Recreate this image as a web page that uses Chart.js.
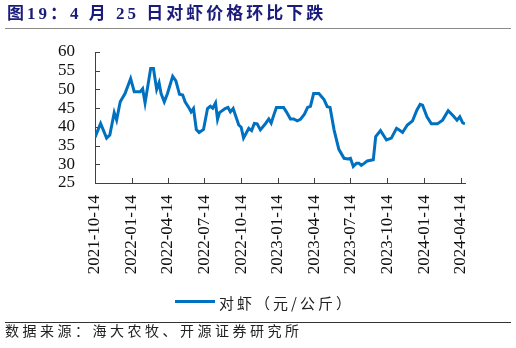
<!DOCTYPE html>
<html>
<head>
<meta charset="utf-8">
<script src="https://cdn.jsdelivr.net/npm/chart.js@4.4.1/dist/chart.umd.min.js"></script>
<style>
  body { margin: 0; width: 516px; height: 348px; background: #fff; position: relative; overflow: hidden; }
  #chart { position: absolute; left: 0; top: 0; }
  .txt { position: absolute; white-space: nowrap; }
  #title { left: 7px; top: 4px; font: bold 17px "Liberation Serif", "Noto Sans CJK SC"; color: #1B1B7A; letter-spacing: 3px; line-height: 20px; }
  #titleRule { position: absolute; left: 5px; width: 506px; top: 28px; height: 1px; background: #8a8a8a; }
  #legLine { position: absolute; left: 175px; top: 300px; width: 40px; height: 3px; background: #0070C0; }
  #legText { left: 219px; top: 294px; font: 15px "Noto Sans CJK SC"; color: #222; line-height: 18px; letter-spacing: 3px; }
  #srcRule { position: absolute; left: 5px; width: 506px; top: 322px; height: 1px; background: #333; }
  #source { left: 5px; top: 323px; font: 14px "Noto Sans CJK SC"; color: #222; line-height: 15px; letter-spacing: 3.5px; }
</style>
</head>
<body>
<canvas id="chart" width="516" height="348"></canvas>
<div class="txt" id="title">图19：4 月 25 日对虾价格环比下跌</div>
<div id="titleRule"></div>
<div id="legLine"></div>
<div class="txt" id="legText">对虾（元/公斤）</div>
<div id="srcRule"></div>
<div class="txt" id="source">数据来源：海大农牧、开源证券研究所</div>
<script>
// 对虾价格（元/公斤），x 为距 2021-10-14 的天数
const startDate = '2021-10-14';
const dayOffsets = [
  0, 14, 29, 37, 48, 54, 63, 75, 89, 98, 113, 119, 125, 139, 146, 154, 160, 165, 173, 181,
  194, 202, 211, 219, 225, 234, 240, 246, 253, 260, 271, 281, 288, 294, 301, 306, 311, 325,
  332, 338, 345, 359, 365, 371, 384, 391, 398, 405, 413, 426, 434, 440, 446, 453, 471, 478,
  488, 496, 505, 513, 523, 531, 538, 546, 559, 572, 580, 587, 597, 602, 609, 622, 632, 638,
  645, 653, 659, 665, 673, 680, 695, 701, 713, 728, 740, 753, 759, 768, 780, 793, 804, 812,
  818, 829, 840, 855, 868, 882, 895, 904, 911, 918, 924
];
const shrimpPrice = [
  37.2, 40.9, 37.0, 37.8, 43.8, 41.8, 46.7, 48.9, 52.9, 49.4, 49.4, 50.2, 46.4, 55.6, 55.6, 50.0, 51.8, 48.9, 46.7, 48.9,
  53.5, 52.3, 48.7, 48.5, 46.7, 45.2, 44.0, 44.9, 39.3, 38.5, 39.3, 44.9, 45.5, 45.0, 46.4, 42.0, 43.8, 44.9,
  45.2, 44.0, 44.9, 40.5, 39.9, 37.0, 39.6, 39.0, 40.9, 40.8, 39.2, 40.9, 42.1, 41.0, 43.0, 45.2, 45.2, 44.0,
  42.1, 42.1, 41.6, 42.0, 43.4, 45.2, 45.5, 48.9, 48.9, 47.3, 45.4, 45.2, 39.2, 37.0, 34.0, 31.6, 31.4, 31.6,
  29.4, 30.3, 30.3, 29.7, 30.3, 30.9, 31.2, 37.4, 39.0, 36.5, 37.0, 39.6, 39.2, 38.5, 40.5, 41.6, 44.5, 46.0,
  45.8, 42.7, 40.8, 40.8, 41.8, 44.3, 42.9, 41.8, 42.7, 41.1, 40.8
];
const xTickLabels = [
  '2021-10-14', '2022-01-14', '2022-04-14', '2022-07-14', '2022-10-14', '2023-01-14',
  '2023-04-14', '2023-07-14', '2023-10-14', '2024-01-14', '2024-04-14'
];
const yTickValues = [25, 30, 35, 40, 45, 50, 55, 60];

const dayMs = 86400000;
const t0 = Date.parse(startDate + 'T00:00:00Z');
const tickDays = xTickLabels.map(d => Math.round((Date.parse(d + 'T00:00:00Z') - t0) / dayMs));

const lineColor = '#0070C0';
const axisColor = '#404040';

// 坐标轴内侧刻度线
const innerTicks = {
  id: 'innerTicks',
  beforeDatasetsDraw(chart) {
    const { ctx, chartArea, scales } = chart;
    ctx.save();
    ctx.strokeStyle = axisColor;
    ctx.lineWidth = 1;
    ctx.beginPath();
    scales.y.ticks.forEach(t => {
      const y = Math.round(scales.y.getPixelForValue(t.value)) + 0.5;
      ctx.moveTo(chartArea.left, y);
      ctx.lineTo(chartArea.left + 5, y);
    });
    scales.x.ticks.forEach(t => {
      const x = Math.round(scales.x.getPixelForValue(t.value)) + 0.5;
      ctx.moveTo(x, chartArea.bottom);
      ctx.lineTo(x, chartArea.bottom - 5);
    });
    ctx.stroke();
    ctx.restore();
  }
};

new Chart(document.getElementById('chart'), {
  type: 'line',
  data: {
    datasets: [{
      label: '对虾（元/公斤）',
      data: dayOffsets.map((d, i) => ({ x: d, y: shrimpPrice[i] })),
      borderColor: lineColor,
      backgroundColor: lineColor,
      borderWidth: 3,
      pointRadius: 0,
      tension: 0,
      fill: false
    }]
  },
  options: {
    responsive: false,
    animation: false,
    devicePixelRatio: 1,
    layout: { padding: { left: 0, right: 51, top: 52, bottom: 0 } },
    plugins: {
      legend: { display: false },
      tooltip: { enabled: false }
    },
    scales: {
      x: {
        type: 'linear',
        min: 0,
        max: 924,
        afterBuildTicks: (scale) => { scale.ticks = tickDays.map(v => ({ value: v })); },
        afterFit: (scale) => { scale.height = 165; },
        grid: { display: false, drawTicks: false },
        border: { display: true, color: axisColor, width: 1 },
        ticks: {
          autoSkip: false,
          minRotation: 90,
          maxRotation: 90,
          padding: 12,
          color: '#111',
          font: { family: 'Liberation Serif', size: 17 },
          callback: (value, index) => xTickLabels[index]
        }
      },
      y: {
        min: 25,
        max: 60,
        afterBuildTicks: (scale) => { scale.ticks = yTickValues.map(v => ({ value: v })); },
        afterFit: (scale) => { scale.width = 95; },
        grid: { display: false, drawTicks: false },
        border: { display: true, color: axisColor, width: 1 },
        ticks: {
          autoSkip: false,
          padding: 20,
          color: '#111',
          font: { family: 'Liberation Serif', size: 17 }
        }
      }
    }
  },
  plugins: [innerTicks]
});
</script>
</body>
</html>
